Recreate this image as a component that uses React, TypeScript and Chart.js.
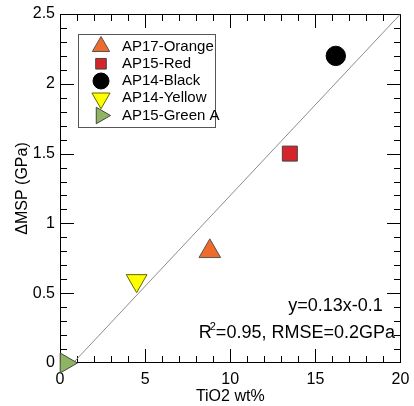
import React, { useEffect, useRef } from "react";
import { Chart, registerables } from "chart.js";
import { drawPoint } from "chart.js/helpers";

Chart.register(...registerables);

// ---- data ----
const seriesNames = ["AP17-Orange", "AP15-Red", "AP14-Black", "AP14-Yellow", "AP15-Green A"];
const tio2 = [8.8, 13.5, 16.2, 4.5, 0.35];
const dmsp = [0.8, 1.5, 2.2, 0.59, 0];
const fitX = [0, 20];
const fitY = [-0.1, 2.5];
const xTickStep = 5;
const yTickStep = 0.5;
const xMinorStep = 1;
const yMinorStep = 0.1;
const xRange = [0, 20];
const yRange = [0, 2.5];
const eqLines = ["y=0.13x-0.1", "=0.95, RMSE=0.2GPa"];

// ---- styles ----
const pointStyles = ["triangle", "rect", "circle", "triangle", "triangle"];
const rotations = [0, 0, 0, 180, 90];
const fillColors = ["#EE6B2D", "#D5252B", "#000000", "#FFFF00", "#8FB462"];
const borderColors = ["#555555", "#444444", "#000000", "#666600", "#444444"];
const radii = [12.5, 10.6, 9.7, 12, 11.5];
const legendRadii = [10, 7.5, 8, 10.5, 9.5];
const FONT = "'Liberation Sans', Arial, sans-serif";

function drawFrame(chart: any) {
  const { ctx, chartArea: a } = chart;
  const sx = chart.scales.x;
  const sy = chart.scales.y;
  const L = Math.round(a.left), R = Math.round(a.right);
  const T = Math.round(a.top), B = Math.round(a.bottom);
  ctx.save();
  ctx.fillStyle = "#000";
  ctx.fillRect(L, T, R - L, 1);
  ctx.fillRect(L, B - 1, R - L, 1);
  ctx.fillRect(L, T, 1, B - T);
  ctx.fillRect(R - 1, T, 1, B - T);
  const nx = Math.round((xRange[1] - xRange[0]) / xMinorStep);
  const perX = Math.round(xTickStep / xMinorStep);
  for (let i = 0; i <= nx; i++) {
    const v = xRange[0] + i * xMinorStep;
    const px = Math.min(Math.round(sx.getPixelForValue(v)), R - 1);
    const len = i % perX === 0 ? 14 : 7;
    ctx.fillRect(px, B - len, 1, len);
    ctx.fillRect(px, T, 1, len);
  }
  const ny = Math.round((yRange[1] - yRange[0]) / yMinorStep);
  const perY = Math.round(yTickStep / yMinorStep);
  for (let i = 0; i <= ny; i++) {
    const v = yRange[0] + i * yMinorStep;
    const py = Math.min(Math.round(sy.getPixelForValue(v)), B - 1);
    const len = i % perY === 0 ? 14 : 7;
    ctx.fillRect(L, py, len, 1);
    ctx.fillRect(R - len, py, len, 1);
  }
  ctx.restore();
}

const frameTicks = {
  id: "frameTicks",
  beforeDatasetsDraw(chart: any) {
    drawFrame(chart);
  },
};

const overlay = {
  id: "overlay",
  afterDatasetsDraw(chart: any) {
    const { ctx, chartArea: a, scales } = chart;
    ctx.save();
    ctx.fillStyle = "#000";
    ctx.textBaseline = "middle";
    ctx.textAlign = "left";
    ctx.font = `18px ${FONT}`;
    const x1 = scales.x.getPixelForValue(13.4);
    const y1 = scales.y.getPixelForValue(0.408);
    ctx.fillText(eqLines[0], x1, y1);
    const x2 = scales.x.getPixelForValue(8.15);
    const y2 = scales.y.getPixelForValue(0.215);
    ctx.fillText("R", x2, y2);
    const rw = ctx.measureText("R").width;
    ctx.font = `11px ${FONT}`;
    ctx.fillText("2", x2 + rw - 2, y2 - 6);
    const sw = ctx.measureText("2").width;
    ctx.font = `18px ${FONT}`;
    ctx.fillText(eqLines[1], x2 + rw - 2 + sw, y2);

    const bx = Math.round(a.left + 17.7) + 0.5;
    const by = Math.round(a.top + 20) + 0.5;
    const bw = 137, bh = 93;
    ctx.fillStyle = "#fff";
    ctx.fillRect(bx, by, bw, bh);
    ctx.strokeStyle = "#555";
    ctx.lineWidth = 1;
    ctx.strokeRect(bx, by, bw, bh);
    ctx.font = `15px ${FONT}`;
    ctx.textBaseline = "middle";
    chart.data.datasets.forEach((ds: any, i: number) => {
      if (ds.label === "fit") return;
      const rowY = by + 12 + i * 17.25;
      const mx = bx + 22.5;
      ctx.fillStyle = ds.backgroundColor;
      ctx.strokeStyle = ds.borderColor;
      ctx.lineWidth = 1;
      drawPoint(ctx, { pointStyle: ds.pointStyle, rotation: ds.rotation, radius: legendRadii[i], borderWidth: 1 } as any, mx, rowY);
      ctx.fillStyle = "#000";
      ctx.fillText(ds.label, bx + 43.5, rowY);
    });
    ctx.restore();
  },
};

export default function App() {
  const ref = useRef<HTMLCanvasElement>(null);
  useEffect(() => {
    if (!ref.current) return;
    const pointSets = seriesNames.map((name, i) => ({
      type: "scatter" as const,
      label: name,
      data: [{ x: tio2[i], y: dmsp[i] }],
      pointStyle: pointStyles[i],
      rotation: rotations[i],
      backgroundColor: fillColors[i],
      borderColor: borderColors[i],
      borderWidth: 1,
      pointRadius: radii[i],
      clip: false as any,
      order: 1,
    }));
    const fitSet = {
      type: "line" as const,
      label: "fit",
      data: fitX.map((x, i) => ({ x, y: fitY[i] })),
      borderColor: "#8c8c8c",
      borderWidth: 1,
      pointRadius: 0,
      fill: false,
      order: 10,
    };
    const chart = new Chart(ref.current, {
      type: "scatter",
      data: { datasets: [...pointSets, fitSet] as any },
      options: {
        animation: false,
        responsive: false,
        layout: { padding: { left: 0, right: 7, top: 14, bottom: 0 } },
        plugins: { legend: { display: false }, tooltip: { enabled: false } },
        scales: {
          x: {
            type: "linear",
            min: xRange[0],
            max: xRange[1],
            ticks: { stepSize: xTickStep, color: "#000", font: { family: FONT, size: 16 }, padding: 7, maxRotation: 0, autoSkip: false, callback: (v: any) => `${+v}` },
            grid: { display: false, drawTicks: false },
            border: { display: false },
            title: { display: true, text: "TiO2 wt%", color: "#000", font: { family: FONT, size: 16 }, padding: { top: 0, bottom: 0 } },
            afterFit(s: any) { s.height = 43; s.paddingLeft = 0; s.paddingRight = 0; },
          },
          y: {
            type: "linear",
            min: yRange[0],
            max: yRange[1],
            ticks: { stepSize: yTickStep, color: "#000", font: { family: FONT, size: 16 }, padding: 5, autoSkip: false, callback: (v: any) => `${+v}` },
            grid: { display: false, drawTicks: false },
            border: { display: false },
            title: { display: true, text: "ΔMSP (GPa)", color: "#000", font: { family: FONT, size: 16 }, padding: { top: 13, bottom: 0 } },
            afterFit(s: any) { s.width = 60; s.paddingTop = 0; s.paddingBottom = 0; },
          },
        },
      },
      plugins: [frameTicks, overlay],
    });
    return () => chart.destroy();
  }, []);
  return (
    <div style={{ position: "absolute", left: 0, top: 0, width: 414, height: 406, background: "#fff" }}>
      <canvas ref={ref} width={414} height={406} style={{ display: "block" }} />
    </div>
  );
}
